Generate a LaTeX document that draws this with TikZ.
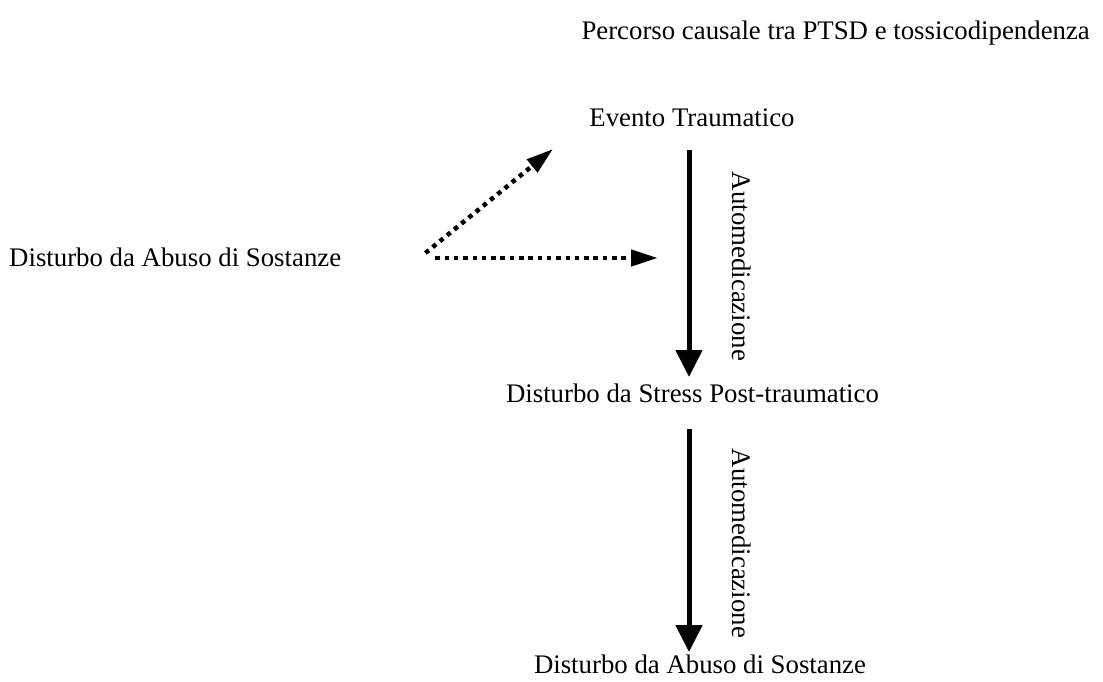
\documentclass[tikz,border=0pt]{standalone}
\usepackage{fontspec}
\setmainfont{Liberation Serif}
\usetikzlibrary{arrows.meta,calc}
\tikzset{
  lbl/.style={inner sep=0pt, font=\fontsize{26.8}{32}\selectfont},
  solidarrow/.style={line width=5pt, -{Triangle[length=27pt,width=26pt]}},
  dotarrow/.style={line width=4.5pt, dash pattern=on 4.5pt off 4.8pt, -{Triangle[length=27pt,width=16pt]}},
}
\begin{document}
\begin{tikzpicture}[x=1pt,y=-1pt]
\path[use as bounding box] (0,0) rectangle (1103,682);
\node[lbl, anchor=base east] (title) at (1090,40) {Percorso causale tra PTSD e tossicodipendenza};
\node[lbl, anchor=base] (evento) at (692,127) {Evento Traumatico};
\node[lbl, anchor=base] (ptsd) at (692.5,402) {Disturbo da Stress Post-traumatico};
\node[lbl, anchor=base] (sud) at (700,673) {Disturbo da Abuso di Sostanze};
\node[lbl, anchor=base west] (sudl) at (9,266) {Disturbo da Abuso di Sostanze};
\coordinate (a1s) at ($(evento.base)+(-3,23)$);
\coordinate (a1e) at ($(ptsd.base)+(-3.5,-25)$);
\coordinate (a2s) at ($(ptsd.base)+(-3.5,27)$);
\coordinate (a2e) at ($(sud.base)+(-11,-21)$);
\draw[solidarrow] (a1s) -- (a1e);
\draw[solidarrow] (a2s) -- (a2e);
\node[lbl, rotate=-90] (l1) at ($(a1s)!0.5!(a1e)+(53,3)$) {Automedicazione};
\node[lbl, rotate=-90] (l2) at ($(a2s)!0.5!(a2e)+(53,3)$) {Automedicazione};
\coordinate (d1s) at ($(sudl.base east)+(84,-13)$);
\coordinate (d1e) at ($(evento.base)+(-139,22)$);
\coordinate (d2s) at ($(sudl.base east)+(94,-8)$);
\coordinate (d2e) at ($(evento.base)+(-34,131)$);
\draw[dotarrow] (d1s) -- (d1e);
\draw[dotarrow] (d2s) -- (d2e);
\end{tikzpicture}
\end{document}
